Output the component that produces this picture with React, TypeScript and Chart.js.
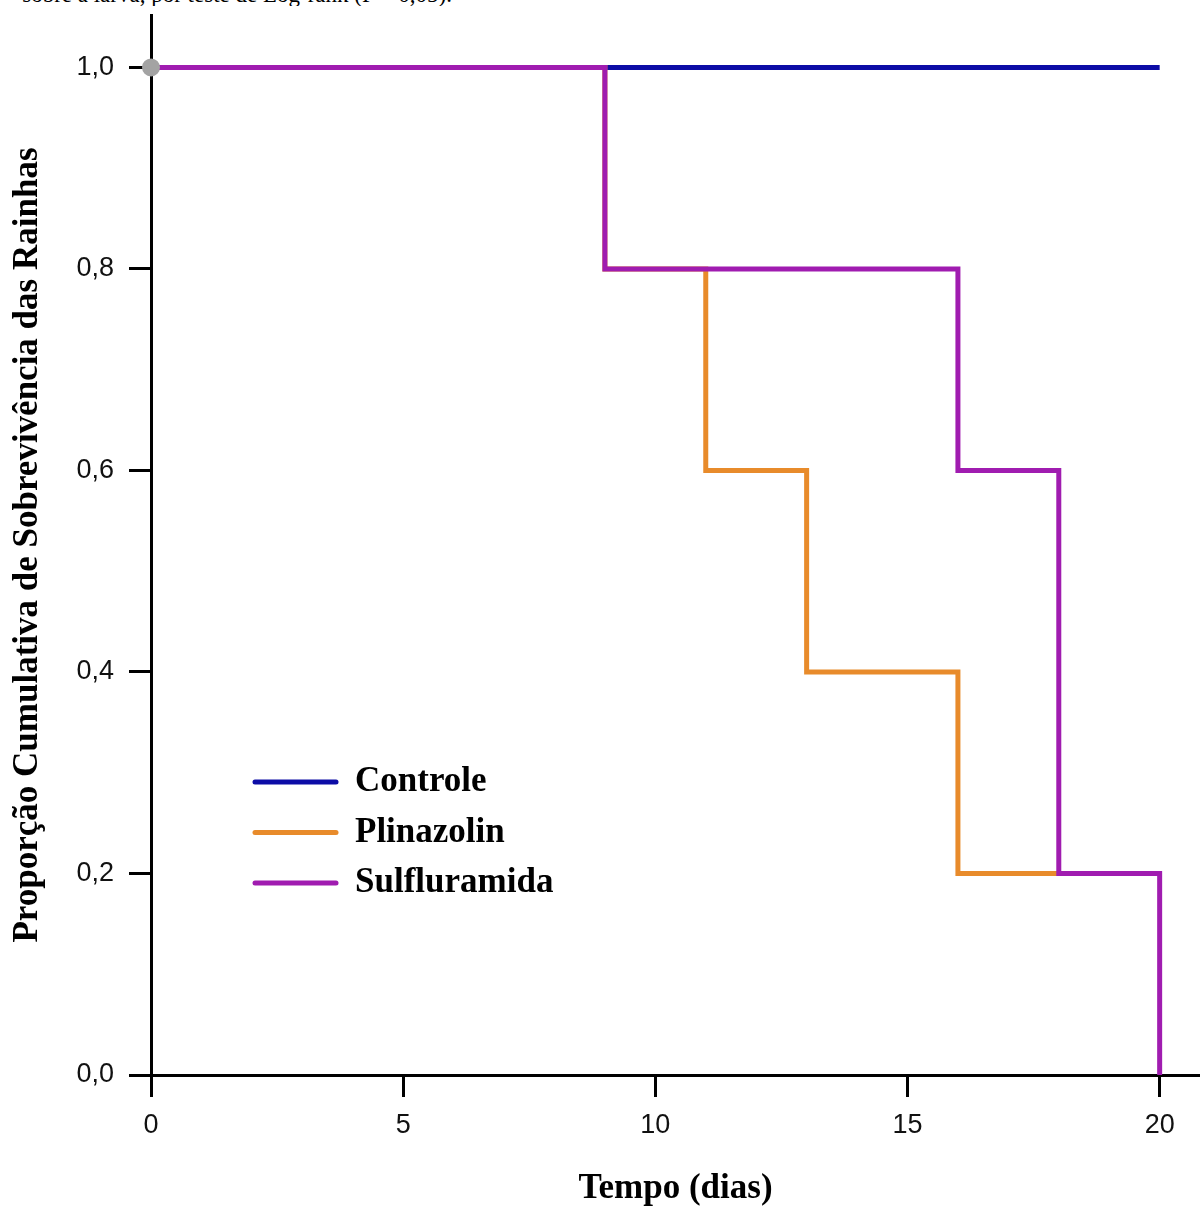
import React, { useEffect, useRef } from "react";
import { Chart, registerables } from "chart.js";

Chart.register(...registerables);

// ---- data ----
const seriesNames = ["Controle", "Plinazolin", "Sulfluramida"];
const controleX = [0, 20];
const controleY = [1, 1];
const plinazolinX = [0, 9, 11, 13, 16, 18];
const plinazolinY = [1, 0.8, 0.6, 0.4, 0.2, 0.2];
const sulfluramidaX = [0, 9, 16, 18, 20];
const sulfluramidaY = [1, 0.8, 0.6, 0.2, 0];
const startX = [0];
const startY = [1];
const xTicks = [0, 5, 10, 15, 20];
const yTicks = [0, 0.2, 0.4, 0.6, 0.8, 1.0];
const yTickLabels = ["0,0", "0,2", "0,4", "0,6", "0,8", "1,0"];
const xTitle = "Tempo (dias)";
const yTitle = "Proporção Cumulativa de Sobrevivência das Rainhas";
const captionText = "sobre a larva, por teste de Log-rank (P = 0,05).";

const colors = ["#0c0ca6", "#e88b2b", "#a01cb0"];
const dotColor = "#a3a3a3";

const toPts = (xs: number[], ys: number[]) => xs.map((x, i) => ({ x, y: ys[i] }));

const legendPlugin = {
  id: "insideLegend",
  afterDraw(chart: any) {
    const ctx = chart.ctx;
    ctx.save();
    const sets = chart.data.datasets.filter((d: any) => d.inLegend);
    sets.forEach((d: any, i: number) => {
      const y = 782 + i * 50.5;
      ctx.beginPath();
      ctx.strokeStyle = d.borderColor;
      ctx.lineWidth = 5;
      ctx.lineCap = "round";
      ctx.moveTo(255, y);
      ctx.lineTo(336, y);
      ctx.stroke();
      ctx.fillStyle = "#000";
      ctx.font = "bold 35px 'Liberation Serif'";
      ctx.textBaseline = "middle";
      ctx.textAlign = "left";
      ctx.fillText(d.label, 355, y);
    });
    ctx.restore();
  },
};

const zeroPad = (s: any) => {
  s.paddingTop = 0;
  s.paddingBottom = 0;
  s.paddingLeft = 0;
  s.paddingRight = 0;
};

export default function App() {
  const ref = useRef<HTMLCanvasElement | null>(null);

  useEffect(() => {
    document.body.style.margin = "0";
    if (!ref.current) return;
    const lineCommon = {
      pointRadius: 0,
      borderWidth: 5,
      stepped: "before" as const,
      fill: false,
      tension: 0,
      borderJoinStyle: "miter" as const,
      borderCapStyle: "butt" as const,
      clip: false as const,
      inLegend: true,
    };
    const chart = new Chart(ref.current, {
      type: "line",
      data: {
        datasets: [
          {
            ...lineCommon,
            label: seriesNames[0],
            data: toPts(controleX, controleY),
            borderColor: colors[0],
            backgroundColor: colors[0],
            order: 3,
          },
          {
            ...lineCommon,
            label: seriesNames[1],
            data: toPts(plinazolinX, plinazolinY),
            borderColor: colors[1],
            backgroundColor: colors[1],
            order: 2,
          },
          {
            ...lineCommon,
            label: seriesNames[2],
            data: toPts(sulfluramidaX, sulfluramidaY),
            borderColor: colors[2],
            backgroundColor: colors[2],
            order: 1,
          },
          {
            label: "start",
            data: toPts(startX, startY),
            showLine: false,
            pointRadius: 9,
            pointBackgroundColor: dotColor,
            pointBorderWidth: 0,
            borderColor: dotColor,
            backgroundColor: dotColor,
            clip: false,
            order: 0,
            inLegend: false,
          } as any,
        ] as any,
      },
      options: {
        animation: false,
        responsive: false,
        maintainAspectRatio: false,
        layout: { autoPadding: false, padding: { top: 15, left: 0, right: 0, bottom: 0 } },
        plugins: {
          legend: { display: false },
          tooltip: { enabled: false },
        },
        scales: {
          x: {
            type: "linear",
            min: 0,
            max: 20.8,
            afterBuildTicks: (s: any) => {
              s.ticks = xTicks.map((v) => ({ value: v }));
            },
            afterFit: (s: any) => {
              s.height = 135;
              zeroPad(s);
            },
            ticks: {
              font: { family: "'Liberation Sans'", size: 27 },
              color: "#111",
              padding: 12,
              maxRotation: 0,
              callback: (v: any) => String(v),
            },
            grid: {
              display: true,
              drawOnChartArea: false,
              drawTicks: true,
              tickLength: 22,
              tickWidth: 3,
              color: "#000",
            },
            border: { display: true, color: "#000", width: 3 },
            title: {
              display: true,
              text: xTitle,
              color: "#000",
              font: { family: "'Liberation Serif'", size: 35, weight: "bold" },
              padding: { top: 0, bottom: 0 },
            },
          },
          y: {
            type: "linear",
            min: 0,
            max: 1.052,
            afterBuildTicks: (s: any) => {
              s.ticks = yTicks.map((v) => ({ value: v }));
            },
            afterFit: (s: any) => {
              s.width = 151;
              zeroPad(s);
            },
            ticks: {
              font: { family: "'Liberation Sans'", size: 27 },
              color: "#111",
              padding: 15,
              callback: (v: any) => {
                const i = yTicks.findIndex((t) => Math.abs(t - v) < 1e-9);
                return i >= 0 ? yTickLabels[i] : "";
              },
            },
            grid: {
              display: true,
              drawOnChartArea: false,
              drawTicks: true,
              tickLength: 22,
              tickWidth: 3,
              color: "#000",
            },
            border: { display: true, color: "#000", width: 3 },
            title: {
              display: true,
              text: yTitle,
              color: "#000",
              font: { family: "'Liberation Serif'", size: 35, weight: "bold" },
              padding: { top: 7, bottom: 0 },
            },
          },
        },
      },
      plugins: [legendPlugin],
    });
    return () => chart.destroy();
  }, []);

  return (
    <div style={{ position: "relative", width: 1200, height: 1210, background: "#fff", overflow: "hidden" }}>
      <div
        style={{
          position: "absolute",
          left: 0,
          top: -17,
          width: 452,
          textAlign: "right",
          whiteSpace: "nowrap",
          overflow: "hidden",
          fontFamily: "'Liberation Serif'",
          fontSize: 23,
          lineHeight: "23px",
          color: "#000",
        }}
      >
        {captionText}
      </div>
      <canvas ref={ref} width={1200} height={1210} style={{ position: "absolute", left: 0, top: 0 }} />
    </div>
  );
}
